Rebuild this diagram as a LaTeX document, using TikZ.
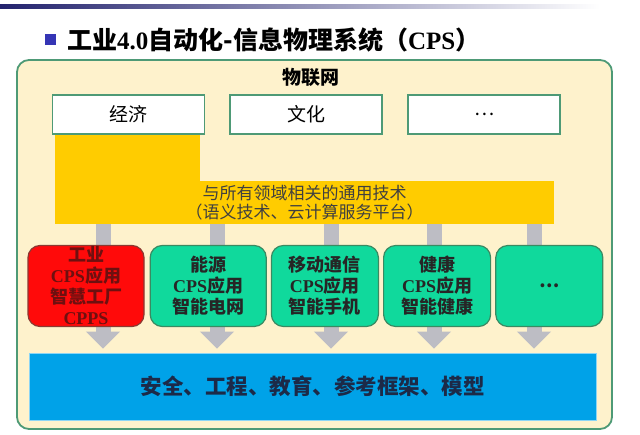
\documentclass[tikz,border=0pt]{standalone}
\usepackage{fontspec}
\setmainfont{Noto Sans CJK SC}
\newfontfamily\tms{Liberation Serif}
\usepackage{xcolor}
\usetikzlibrary{positioning,arrows.meta}

\definecolor{outerfill}{HTML}{FEF2CC}
\definecolor{outerline}{HTML}{4E9A76}
\definecolor{techyellow}{HTML}{FFCC00}
\definecolor{appgreen}{HTML}{10D99C}
\definecolor{appline}{HTML}{3A8A62}
\definecolor{appred}{HTML}{FF0A0A}
\definecolor{redline}{HTML}{8A3A32}
\definecolor{redtext}{HTML}{6E1010}
\definecolor{baseblue}{HTML}{00A2E8}
\definecolor{basetext}{HTML}{1C2A48}
\definecolor{titlebullet}{HTML}{3535B5}
\definecolor{arrowgray}{HTML}{BDBDC4}
\definecolor{titleline}{HTML}{23236E}

\begin{document}
\begin{tikzpicture}[x=1pt, y=-1pt,
  topbox/.style={draw=outerline, line width=1.8pt, fill=white, minimum width=152pt, minimum height=39pt, font=\fontsize{19}{22}\selectfont},
  appbox/.style={draw=appline, line width=1.2pt, fill=appgreen, rounded corners=12pt, align=center, minimum height=81pt, inner sep=0pt, text=black!85, font=\fontsize{18}{21}\selectfont\bfseries},
  flowarrow/.style={draw=arrowgray, line width=15pt, -{Triangle[width=33pt,length=17pt]}, shorten >=4pt}
]
\useasboundingbox (0,0) rectangle (640,435);
\shade[left color=titleline, right color=white] (0,5) rectangle (600,9);

% title
\fill[titlebullet] (45,34) rectangle (56,45);
\node[anchor=west, inner sep=0pt, font=\fontsize{25}{29}\selectfont\bfseries] (title) at (67,40) {工业{\tms 4.0}自动化-信息物理系统（{\tms CPS}）};

% frame
\draw[outerline, fill=outerfill, line width=1.8pt, rounded corners=12pt] (17,60) rectangle (612,429);
\node[font=\fontsize{19}{22}\selectfont\bfseries] (iot) at (311,77) {物联网};

% common technology band
\fill[techyellow] (55,133) rectangle (200,182);
\node[fill=techyellow, minimum width=499pt, minimum height=43pt, inner sep=0pt, align=center, text=black!75, font=\fontsize{17}{19.5}\selectfont] (tech) at (304.5,202.5) {与所有领域相关的通用技术\\（语义技术、云计算服务平台）};

\node[topbox] (econ) at (128.5,114.5) {经济};
\node[topbox, right=24pt of econ] (culture) {文化};
\node[topbox, right=24pt of culture] (moretop) {…};

\node[fill=baseblue, draw=baseblue!45!white, line width=0.8pt, minimum width=567pt, minimum height=67pt, text=basetext, font=\fontsize{21.5}{24}\selectfont\bfseries] (base) at (312.5,386.5) {安全、工程、教育、参考框架、模型};

\draw[flowarrow] (tech.south -| 103,0) -- (base.north -| 103,0);
\draw[flowarrow] (tech.south -| 217,0) -- (base.north -| 217,0);
\draw[flowarrow] (tech.south -| 331,0) -- (base.north -| 331,0);
\draw[flowarrow] (tech.south -| 434,0) -- (base.north -| 434,0);
\draw[flowarrow] (tech.south -| 534,0) -- (base.north -| 534,0);

% applications
\node[appbox, fill=appred, draw=redline, text=redtext, minimum width=116pt] (industry) at (86,286) {工业\\{\tms CPS}应用\\智慧工厂\\{\tms CPPS}};
\node[appbox, minimum width=116pt, right=5pt of industry] (energy) {能源\\{\tms CPS}应用\\智能电网};
\node[appbox, minimum width=107pt, right=4pt of energy] (mobile) {移动通信\\{\tms CPS}应用\\智能手机};
\node[appbox, minimum width=107pt, right=4pt of mobile] (health) {健康\\{\tms CPS}应用\\智能健康};
\node[appbox, minimum width=107pt, right=4pt of health] (moreapp) {…};
\end{tikzpicture}
\end{document}
